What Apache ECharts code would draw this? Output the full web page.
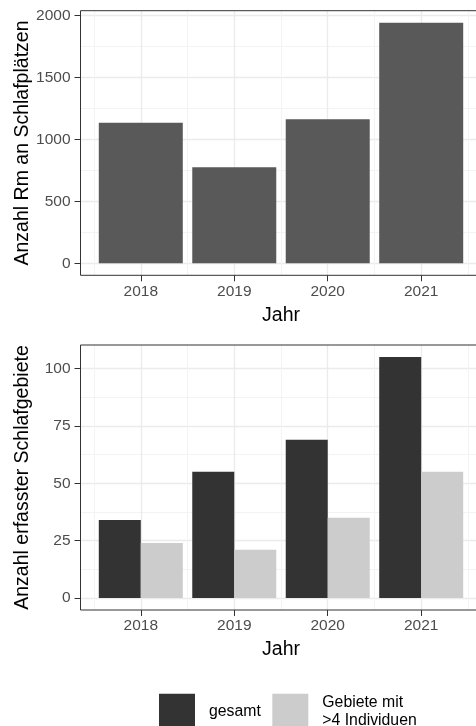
<!DOCTYPE html>
<html><head><meta charset="utf-8">
<script src="https://cdn.jsdelivr.net/npm/echarts@6/dist/echarts.min.js"></script>
<style>html,body{margin:0;padding:0;background:#fff}#c{width:476px;height:726px}</style>
</head><body><div id="c"></div>
<script>
const years = [2018, 2019, 2020, 2021];
const rmCounts = [1136, 775, 1163, 1943];
const areasTotal = [34, 55, 69, 105];
const areasOver4 = [24, 21, 35, 55];
const topTicks = [0, 500, 1000, 1500, 2000];
const topMinor = [250, 750, 1250, 1750];
const bottomTicks = [0, 25, 50, 75, 100];
const bottomMinor = [12.5, 37.5, 62.5, 87.5];
const xMinor = [2017.5, 2018.5, 2019.5, 2020.5, 2021.5];
const seriesNames = ['gesamt', 'Gebiete mit\n>4 Individuen'];
const yTitles = ['Anzahl Rm an Schlafplätzen', 'Anzahl erfasster Schlafgebiete'];
const xTitle = 'Jahr';

function expand(lo, hi) { const d = (hi - lo) * 0.05; return [lo - d, hi + d]; }
const xr = expand(2017.55, 2021.45);
const yTop = expand(0, Math.max(...rmCounts));
const yBot = expand(0, Math.max(...areasTotal, ...areasOver4));
const FONT = '"Liberation Sans", Arial, sans-serif';
const fmt = v => String(v);

const grids = [
  {left: 80.5, width: 401, top: 10.7, height: 264.6, show: true, borderColor: '#333', borderWidth: 1, z: 10, outerBoundsMode: 'none', containLabel: false},
  {left: 80.5, width: 401, top: 345, height: 265, show: true, borderColor: '#333', borderWidth: 1, z: 10, outerBoundsMode: 'none', containLabel: false}
];

function minorX(g) {
  return {type: 'value', gridIndex: g, position: 'bottom', min: xr[0], max: xr[1],
    axisLine: {show: false, onZero: false}, axisTick: {show: false, customValues: xMinor},
    axisLabel: {show: false, customValues: xMinor},
    splitLine: {show: true, lineStyle: {color: '#F3F3F3', width: 1}}};
}
function majorX(g) {
  return {type: 'value', gridIndex: g, position: 'bottom', min: xr[0], max: xr[1],
    axisLine: {show: false, onZero: false},
    axisTick: {show: true, customValues: years, length: 6, lineStyle: {color: '#333', width: 1}},
    axisLabel: {customValues: years, formatter: fmt, margin: 8, fontFamily: FONT, fontSize: 15.5, color: '#4D4D4D'},
    splitLine: {show: true, lineStyle: {color: '#EBEBEB', width: 1.3}},
    name: xTitle, nameLocation: 'middle', nameGap: 30, nameMoveOverlap: false,
    nameTextStyle: {fontFamily: FONT, fontSize: 19.5, color: '#000'}};
}
function minorY(g, r, vals) {
  return {type: 'value', gridIndex: g, position: 'left', min: r[0], max: r[1],
    axisLine: {show: false, onZero: false}, axisTick: {show: false, customValues: vals},
    axisLabel: {show: false, customValues: vals},
    splitLine: {show: true, lineStyle: {color: '#F3F3F3', width: 1}}};
}
function majorY(g, r, vals, title) {
  return {type: 'value', gridIndex: g, position: 'left', min: r[0], max: r[1],
    axisLine: {show: false, onZero: false},
    axisTick: {show: true, customValues: vals, length: 6, lineStyle: {color: '#333', width: 1}},
    axisLabel: {customValues: vals, formatter: fmt, margin: 10, fontFamily: FONT, fontSize: 15.5, color: '#4D4D4D'},
    splitLine: {show: true, lineStyle: {color: '#EBEBEB', width: 1.3}},
    name: title, nameLocation: 'middle', nameRotate: 90, nameGap: 48, nameMoveOverlap: false,
    nameTextStyle: {fontFamily: FONT, fontSize: 19.5, color: '#000'}};
}

const option = {
  animation: false,
  backgroundColor: '#fff',
  grid: grids,
  xAxis: [minorX(0), majorX(0), minorX(1), majorX(1)],
  yAxis: [minorY(0, yTop, topMinor), majorY(0, yTop, topTicks, yTitles[0]),
          minorY(1, yBot, bottomMinor), majorY(1, yBot, bottomTicks, yTitles[1])],
  legend: {
    data: seriesNames, left: 159, top: 691, orient: 'horizontal', padding: 0,
    itemWidth: 36, itemHeight: 36, itemGap: 11.5, icon: 'rect',
    textStyle: {fontFamily: FONT, fontSize: 15.8, color: '#000', lineHeight: 18.7, padding: [0, 0, 4, 9]}
  },
  series: [
    {name: 'Rm', type: 'bar', xAxisIndex: 1, yAxisIndex: 1, barWidth: 84,
     data: years.map((y, i) => [y, rmCounts[i]]), itemStyle: {color: '#595959'}},
    {name: seriesNames[0], type: 'bar', xAxisIndex: 3, yAxisIndex: 3, barWidth: 42, barGap: '0%',
     data: years.map((y, i) => [y, areasTotal[i]]), itemStyle: {color: '#333333'}},
    {name: seriesNames[1], type: 'bar', xAxisIndex: 3, yAxisIndex: 3, barWidth: 42, barGap: '0%',
     data: years.map((y, i) => [y, areasOver4[i]]), itemStyle: {color: '#CCCCCC'}}
  ]
};
const chart = echarts.init(document.getElementById('c'), null, {renderer: 'canvas'});
chart.setOption(option);
</script>
</body></html>
